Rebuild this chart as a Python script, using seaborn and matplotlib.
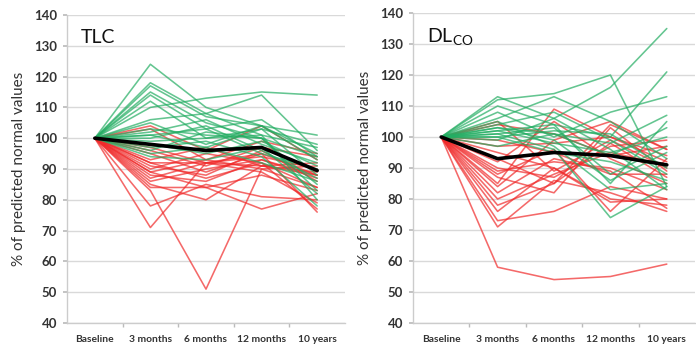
import numpy as np
import pandas as pd
import matplotlib
matplotlib.use("Agg")
import matplotlib.pyplot as plt
import seaborn as sns

categories = ["Baseline", "3 months", "6 months", "12 months", "10 years"]
y_ticks = [40, 50, 60, 70, 80, 90, 100, 110, 120, 130, 140]

# values at 3 months, 6 months, 12 months, 10 years (baseline = 100)
tlc_green = [
    [124, 110, 104, 93], [110, 113, 115, 114], [118, 108, 114, 96],
    [117, 107, 104, 101], [115, 105, 100, 85], [114, 103, 106, 94],
    [112, 100, 103, 88], [106, 108, 101, 97], [105, 98, 104, 95],
    [103, 101, 100, 83], [102, 106, 98, 92], [101, 97, 103, 98],
    [100, 104, 96, 87], [99, 100, 101, 80], [98, 95, 99, 91],
    [97, 99, 94, 78], [96, 102, 100, 94], [95, 97, 92, 86],
    [94, 93, 97, 82], [101, 103, 95, 90],
]
tlc_red = [
    [104, 96, 104, 93], [103, 93, 99, 95], [97, 92, 95, 88],
    [92, 92, 94, 90], [91, 88, 96, 86], [90, 95, 92, 84],
    [89, 93, 90, 91], [88, 86, 93, 87], [87, 92, 89, 79],
    [86, 90, 93, 88], [85, 80, 91, 89], [84, 84, 77, 82],
    [83, 51, 90, 84], [71, 92, 91, 88], [78, 85, 81, 80],
    [93, 97, 91, 92], [95, 89, 95, 76], [96, 91, 97, 94],
    [89, 84, 88, 83], [92, 87, 92, 77],
]
tlc_mean = [100, 98, 96, 97, 89.5]

dlco_green = [
    [113, 106, 116, 135], [112, 114, 120, 84], [110, 104, 100, 121],
    [108, 100, 108, 113], [106, 113, 105, 93], [103, 101, 98, 107],
    [102, 104, 85, 105], [102, 98, 95, 100], [101, 103, 88, 97],
    [101, 96, 74, 84], [100, 102, 101, 90], [100, 95, 92, 86],
    [99, 106, 96, 83], [103, 99, 86, 95], [104, 108, 99, 88],
    [97, 101, 94, 103], [105, 97, 83, 85],
]
dlco_red = [
    [58, 54, 55, 59], [71, 86, 82, 76], [73, 76, 84, 80],
    [76, 90, 80, 78], [78, 85, 98, 87], [80, 88, 95, 91],
    [82, 93, 89, 77], [84, 99, 105, 96], [85, 109, 100, 94],
    [87, 82, 103, 89], [89, 92, 90, 83], [90, 87, 97, 99],
    [92, 105, 93, 85], [93, 85, 104, 96], [95, 90, 79, 80],
    [97, 98, 100, 92], [99, 95, 88, 88], [104, 101, 94, 97],
    [105, 89, 99, 90], [88, 96, 76, 93],
]
dlco_mean = [100, 93, 95, 94, 91]

baseline = 100
GREEN = "#23ad62"
RED = "#f02a2a"


def build_frame(green, red):
    rows = []
    uid = 0
    for grp, series in (("g", green), ("r", red)):
        for s in series:
            vals = [baseline] + list(s)
            for i, v in enumerate(vals):
                rows.append({"x": i, "y": v, "unit": uid, "grp": grp})
            uid += 1
    return pd.DataFrame(rows)


sns.set_theme(style="white")
plt.rcParams["font.family"] = ["Lato", "DejaVu Sans"]

fig = plt.figure(figsize=(6.96, 3.47), dpi=100)
ax1 = fig.add_axes([67 / 696, 1 - 323 / 347, 278 / 696, 308 / 347])
ax2 = fig.add_axes([413 / 696, 1 - 323 / 347, 282 / 696, 310 / 347])


def draw(ax, green, red, mean, title):
    df = build_frame(green, red)
    sns.lineplot(data=df[df.grp == "r"], x="x", y="y", units="unit",
                 estimator=None, color=RED, alpha=0.7, lw=1.15, ax=ax,
                 legend=False)
    sns.lineplot(data=df[df.grp == "g"], x="x", y="y", units="unit",
                 estimator=None, color=GREEN, alpha=0.7, lw=1.15, ax=ax,
                 legend=False)
    mdf = pd.DataFrame({"x": range(len(mean)), "y": mean})
    sns.lineplot(data=mdf, x="x", y="y", color="black", lw=2.6, ax=ax,
                 legend=False)
    ax.set_xlim(-0.5, 4.5)
    ax.set_ylim(40, 140)
    ax.set_yticks(y_ticks)
    ax.set_yticklabels([str(t) for t in y_ticks], fontsize=9.5,
                       fontweight="bold", color="#333333")
    ax.set_xticks(range(len(categories)))
    ax.set_xticklabels(categories, fontsize=7.4, fontweight="bold",
                       color="#333333")
    ax.set_xticks([0.5, 1.5, 2.5, 3.5], minor=True)
    ax.tick_params(axis="x", which="major", length=0, pad=9)
    ax.tick_params(axis="x", which="minor", length=3, color="#bbbbbb",
                   direction="out", bottom=True)
    ax.tick_params(axis="y", length=3, color="#bbbbbb", left=True, pad=4)
    ax.grid(axis="y", color="#d9d9d9", lw=1)
    ax.set_axisbelow(True)
    for s in ("top", "right"):
        ax.spines[s].set_visible(False)
    for s in ("left", "bottom"):
        ax.spines[s].set_color("#cccccc")
        ax.spines[s].set_linewidth(1)
    ax.set_xlabel("")
    ax.set_ylabel("% of predicted normal values", fontsize=11,
                  color="#333333", labelpad=6)
    ax.text(0.05, 0.955, title, transform=ax.transAxes, fontsize=14,
            va="top", ha="left", color="#111111")


draw(ax1, tlc_green, tlc_red, tlc_mean, "TLC")
draw(ax2, dlco_green, dlco_red, dlco_mean, r"DL$_{\mathregular{CO}}$")

fig.savefig("out.png", dpi=100)
